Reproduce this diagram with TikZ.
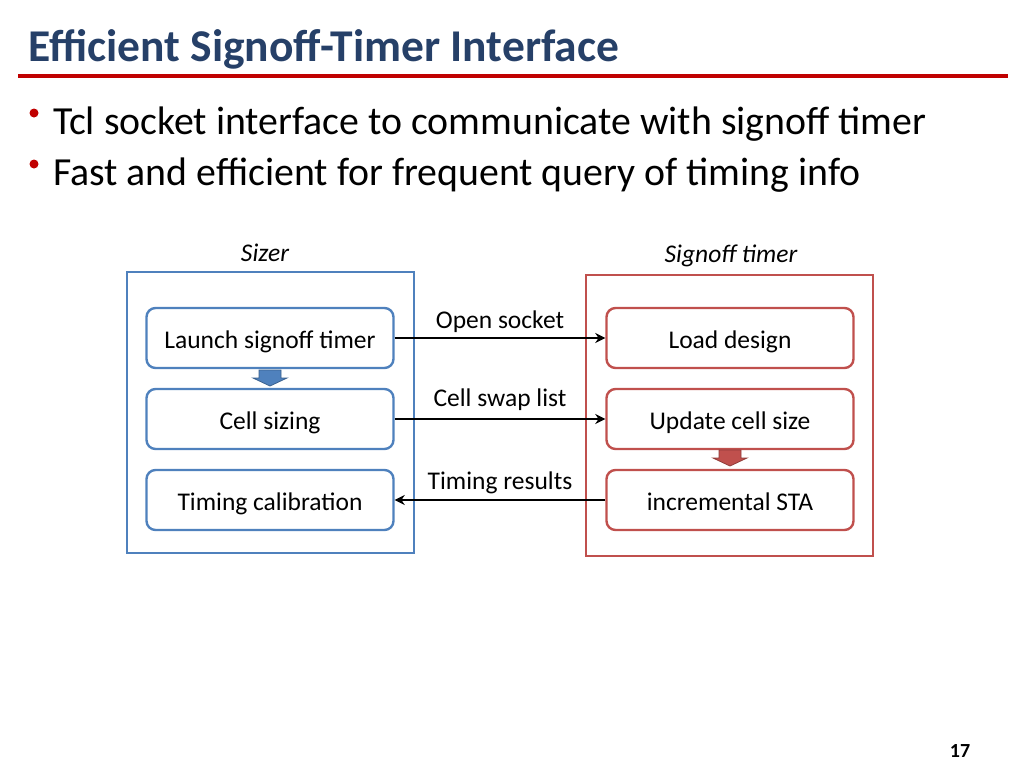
\documentclass[tikz,border=0pt]{standalone}
\usepackage{fontspec}
\setmainfont{Carlito}
\usetikzlibrary{arrows.meta}

\definecolor{titleblue}{RGB}{38,64,104}
\definecolor{barred}{RGB}{192,0,0}
\definecolor{sizerblue}{RGB}{79,129,189}
\definecolor{timerred}{RGB}{192,80,77}

\begin{document}
\begin{tikzpicture}[x=1pt,y=-1pt,>={Stealth[length=10pt,width=10pt]},node distance=81pt,
        step box/.style={draw=#1,rounded corners=9pt,line width=2.4pt,fill=white,text=black,
          minimum width=247pt,minimum height=60pt,text height=20pt,text depth=0pt,
          font=\fontsize{25.5}{28}\selectfont},
        frame box/.style={draw=#1,line width=2pt,minimum width=287pt,minimum height=281pt},
        block arrow/.style={draw=#1!75!black,fill=#1,line width=0.8pt},
        link/.style={->,draw=black,line width=2.5pt},
        link label/.style={above,font=\fontsize{25.5}{28}\selectfont}]

  \useasboundingbox (0,0) rectangle (1024,768);

  % title and bullets
  \node[anchor=base west,inner sep=0pt,text=titleblue,font=\fontsize{45.5}{50}\selectfont\bfseries]
    (title) at (28,62) {Efficient Signoff-Timer Interface};
  \draw[barred,line width=4pt] (18,76) -- (1008,76);
  \fill[barred] (34,113) circle (4.5pt);
  \fill[barred] (34,164) circle (4.5pt);
  \node[anchor=base west,inner sep=0pt,font=\fontsize{39.8}{44}\selectfont]
    (b1) at (53,134) {Tcl socket interface to communicate with signoff timer};
  \node[anchor=base west,inner sep=0pt,font=\fontsize{39.8}{44}\selectfont]
    (b2) at (53,185) {Fast and efficient for frequent query of timing info};

  % the two sides
  \node[frame box=sizerblue] (sizer) at (270.5,412.5) {};
  \node[frame box=timerred] (timer) at (729,415.5) {};
  \node[font=\fontsize{25.5}{28}\selectfont\itshape] (sizerlbl) at (265,253) {Sizer};
  \node[font=\fontsize{25.5}{28}\selectfont\itshape] (timerlbl) at (731,256) {Signoff timer};

  \node[step box=sizerblue] (launch) at (270,338) {Launch signoff timer};
  \node[step box=sizerblue] (sizing) [below of=launch] {Cell sizing};
  \node[step box=sizerblue] (calib) [below of=sizing] {Timing calibration};

  \node[step box=timerred] (load) at (730,338) {Load design};
  \node[step box=timerred] (update) [below of=load] {Update cell size};
  \node[step box=timerred] (sta) [below of=update] {incremental STA};

  % little flow arrows
  \foreach \x/\y/\c in {270/370/sizerblue, 730/450/timerred}
    \draw[block arrow=\c,shift={(\x,\y)}]
      (-11,0) -- (11,0) -- (11,8) -- (17,8) -- (0,16) -- (-17,8) -- (-11,8) -- cycle;

  \draw[link] (launch) -- node[link label,yshift=1pt] {Open socket} (load);
  \draw[link] (sizing) -- node[link label,yshift=4pt] {Cell swap list} (update);
  \draw[link] (sta) -- node[link label,yshift=2pt] {Timing results} (calib);

  \node[font=\fontsize{20}{22}\selectfont\bfseries] (page) at (960,751) {17};

\end{tikzpicture}
\end{document}
